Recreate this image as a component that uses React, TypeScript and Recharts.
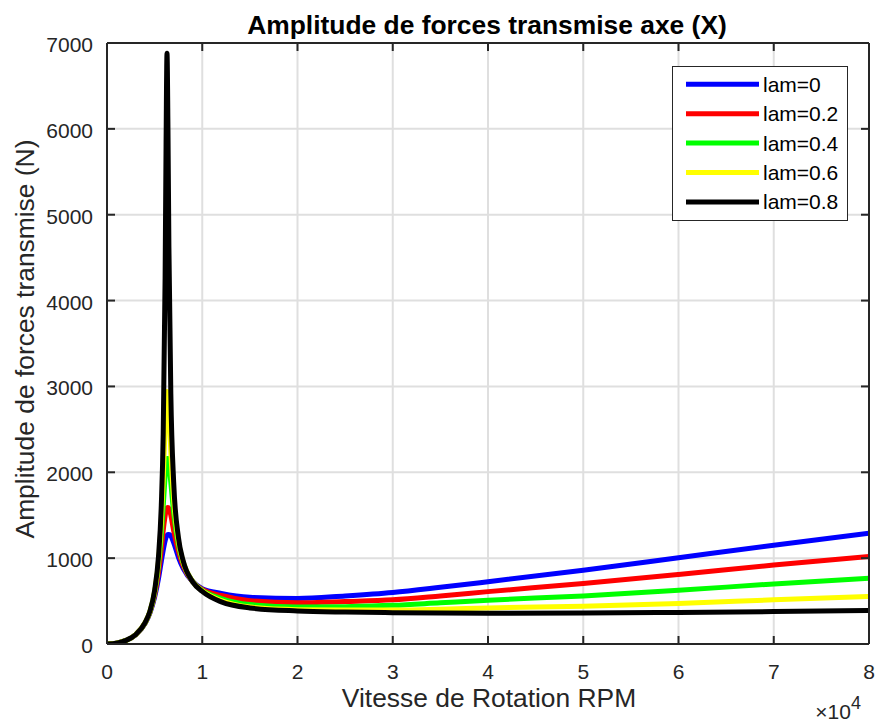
import { CartesianGrid, Legend, Line, LineChart, XAxis, YAxis } from "recharts";

// vitesse de rotation (x 10^4 RPM)
const rpm = [0, 0.1, 0.2, 0.3, 0.4, 0.45, 0.5, 0.54, 0.57, 0.59, 0.61, 0.62, 0.63, 0.64, 0.65, 0.67, 0.7, 0.75, 0.8, 0.9, 1.0, 1.2, 1.5, 2, 2.5, 3, 3.5, 4, 5, 6, 7, 8];

// amplitude (N) per lam value
const lam0 = [0, 10, 42, 107, 240, 360, 545, 760, 960, 1090, 1200, 1240, 1265, 1275, 1275, 1260, 1180, 1010, 880, 725, 645, 590, 545, 530, 560, 600, 660, 725, 860, 1005, 1150, 1290];
const lam2 = [0, 10, 42, 108, 245, 368, 570, 830, 1100, 1320, 1490, 1550, 1585, 1590, 1580, 1500, 1320, 1080, 910, 725, 635, 565, 505, 480, 495, 515, 560, 610, 705, 810, 920, 1020];
const lam4 = [0, 10, 42, 108, 247, 372, 597, 905, 1270, 1600, 1950, 2090, 2160, 2160, 2100, 1880, 1530, 1150, 940, 727, 625, 530, 460, 430, 435, 450, 480, 510, 560, 625, 700, 765];
const lam6 = [0, 10, 42, 108, 248, 375, 611, 955, 1420, 1910, 2530, 2800, 2940, 2900, 2720, 2240, 1680, 1195, 952, 727, 620, 505, 430, 400, 395, 395, 405, 420, 440, 472, 515, 555];
const lam8 = [0, 10, 42, 108, 250, 380, 625, 1010, 1615, 2440, 4260, 5800, 6880, 6000, 4620, 2920, 1885, 1240, 968, 724, 612, 490, 420, 385, 372, 365, 360, 358, 360, 368, 378, 390];

const xTicks = [0, 1, 2, 3, 4, 5, 6, 7, 8];
const yTicks = [0, 1000, 2000, 3000, 4000, 5000, 6000, 7000];

const series = [
  { key: "lam0", name: "lam=0", color: "#0000ff", values: lam0 },
  { key: "lam2", name: "lam=0.2", color: "#ff0000", values: lam2 },
  { key: "lam4", name: "lam=0.4", color: "#00ff00", values: lam4 },
  { key: "lam6", name: "lam=0.6", color: "#ffff00", values: lam6 },
  { key: "lam8", name: "lam=0.8", color: "#000000", values: lam8 },
];

const data = rpm.map((x, i) => {
  const row: Record<string, number> = { x };
  series.forEach((s) => (row[s.key] = s.values[i]));
  return row;
});

const INK = "#262626";
const FONT = "'Liberation Sans', Arial, Helvetica, sans-serif";
const TICK = 8;

function BottomTick({ x, y, payload }: any) {
  return (
    <g>
      <line x1={x} y1={y} x2={x} y2={y - TICK} stroke={INK} strokeWidth={2} />
      <text x={x} y={y + 35} textAnchor="middle" fontSize={21} fill={INK} fontFamily={FONT}>
        {payload.value}
      </text>
    </g>
  );
}

function TopTick({ x, y }: any) {
  return <line x1={x} y1={y} x2={x} y2={y + TICK} stroke={INK} strokeWidth={2} />;
}

function LeftTick({ x, y, payload }: any) {
  return (
    <g>
      <line x1={x} y1={y} x2={x + TICK} y2={y} stroke={INK} strokeWidth={2} />
      <text x={x - 14} y={y + 9} textAnchor="end" fontSize={21} fill={INK} fontFamily={FONT}>
        {payload.value}
      </text>
    </g>
  );
}

function RightTick({ x, y }: any) {
  return <line x1={x} y1={y} x2={x - TICK} y2={y} stroke={INK} strokeWidth={2} />;
}

function LegendBox({ payload }: any) {
  const items = payload?.length ? payload : series.map((s) => ({ value: s.name, color: s.color }));
  return (
    <svg width={176} height={155} style={{ display: "block" }}>
      <rect x={0.5} y={0.5} width={175} height={154} fill="#fff" stroke={INK} strokeWidth={1} />
      {items.map((p: any, i: number) => {
        const cy = 18.3 + i * 29.4;
        return (
          <g key={p.value}>
            <line x1={14} x2={87} y1={cy} y2={cy} stroke={p.color} strokeWidth={5} />
            <text x={91} y={cy + 7.5} fontSize={21} fill="#000" fontFamily={FONT}>
              {p.value}
            </text>
          </g>
        );
      })}
    </svg>
  );
}

export default function App() {
  const axisLine = { stroke: INK, strokeWidth: 2 };
  return (
    <div style={{ position: "absolute", left: 0, top: 0, width: 877, height: 724, background: "#fff" }}>
      <LineChart width={877} height={724} data={data} margin={{ top: 13, right: 0, bottom: 0, left: 0 }}>
        <CartesianGrid xAxisId="b" yAxisId="l" stroke="#dfdfdf" strokeWidth={2} />
        <XAxis
          xAxisId="b"
          dataKey="x"
          type="number"
          domain={[0, 8]}
          ticks={xTicks}
          interval={0}
          height={80}
          tickSize={0}
          tickMargin={0}
          tickLine={false}
          axisLine={axisLine}
          tick={<BottomTick />}
          allowDataOverflow
        />
        <XAxis
          xAxisId="t"
          orientation="top"
          dataKey="x"
          type="number"
          domain={[0, 8]}
          ticks={xTicks}
          interval={0}
          height={30}
          tickSize={0}
          tickMargin={0}
          tickLine={false}
          axisLine={axisLine}
          tick={<TopTick />}
          allowDataOverflow
        />
        <YAxis
          yAxisId="l"
          type="number"
          domain={[0, 7000]}
          ticks={yTicks}
          interval={0}
          width={107}
          tickSize={0}
          tickMargin={0}
          tickLine={false}
          axisLine={axisLine}
          tick={<LeftTick />}
          allowDataOverflow
        />
        <YAxis
          yAxisId="r"
          orientation="right"
          type="number"
          domain={[0, 7000]}
          ticks={yTicks}
          interval={0}
          width={8}
          tickSize={0}
          tickMargin={0}
          tickLine={false}
          axisLine={axisLine}
          tick={<RightTick />}
          allowDataOverflow
        />
        {series.map((s) => (
          <Line
            key={s.key}
            xAxisId="b"
            yAxisId="l"
            type="monotone"
            dataKey={s.key}
            name={s.name}
            stroke={s.color}
            strokeWidth={5}
            dot={false}
            activeDot={false}
            isAnimationActive={false}
          />
        ))}
        <Legend
          layout="vertical"
          align="center"
          verticalAlign="middle"
          content={<LegendBox />}
          wrapperStyle={{ position: "absolute", left: 672, top: 66, width: 176, height: 155 }}
        />
      </LineChart>
      <svg
        width={877}
        height={724}
        style={{ position: "absolute", left: 0, top: 0, pointerEvents: "none" }}
        fontFamily={FONT}
      >
        <text x={487} y={34} textAnchor="middle" fontSize={26.4} fontWeight="bold" fill="#000">
          Amplitude de forces transmise axe (X)
        </text>
        <text x={489} y={707} textAnchor="middle" fontSize={26.4} fill={INK}>
          Vitesse de Rotation RPM
        </text>
        <text x={34} y={339} textAnchor="middle" fontSize={26.4} fill={INK} transform="rotate(-90 34 339)">
          Amplitude de forces transmise (N)
        </text>
        <text x={861} y={719} textAnchor="end" fontSize={21} fill={INK}>
          ×10<tspan dy={-10} fontSize={18}>4</tspan>
        </text>
      </svg>
    </div>
  );
}
